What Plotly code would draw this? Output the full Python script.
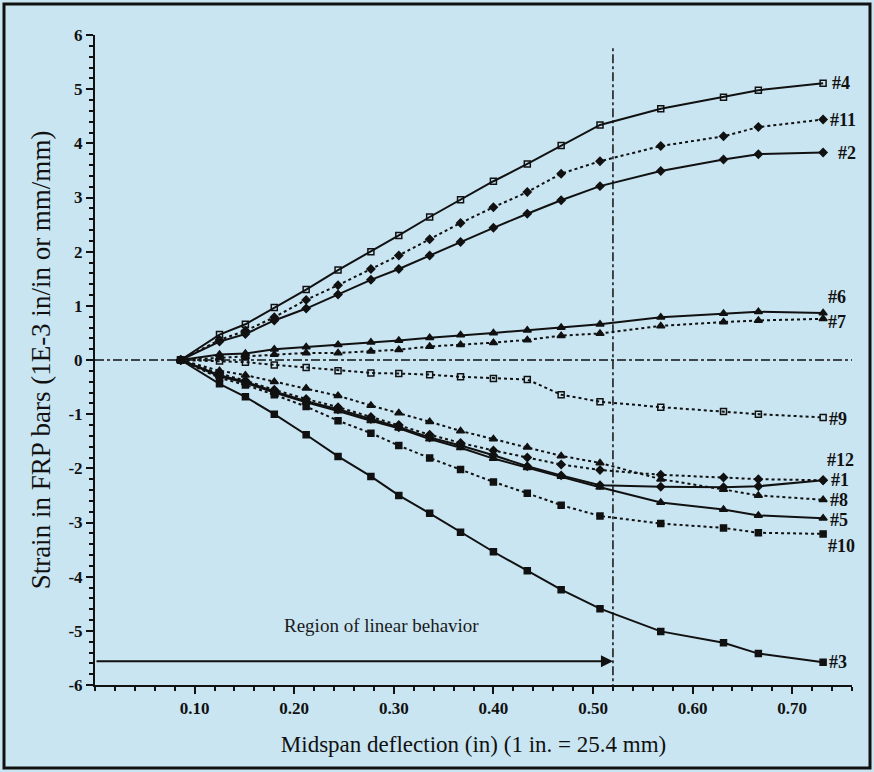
import plotly.graph_objects as go

# ---- data ----
deflection = [0.086, 0.125, 0.151, 0.180, 0.212, 0.244, 0.277, 0.305, 0.336,
              0.367, 0.400, 0.434, 0.468, 0.507, 0.568, 0.631, 0.666, 0.731]

bar4 = [0, 0.47, 0.66, 0.97, 1.30, 1.66, 2.00, 2.30, 2.64, 2.96, 3.30, 3.62, 3.96, 4.34, 4.64, 4.85, 4.98, 5.11]
bar11 = [0, 0.37, 0.54, 0.79, 1.11, 1.38, 1.68, 1.93, 2.23, 2.53, 2.82, 3.10, 3.44, 3.67, 3.95, 4.13, 4.30, 4.44]
bar2 = [0, 0.34, 0.48, 0.73, 0.95, 1.21, 1.48, 1.68, 1.93, 2.18, 2.44, 2.70, 2.95, 3.21, 3.49, 3.70, 3.80, 3.83]
bar6 = [0, 0.10, 0.12, 0.20, 0.24, 0.28, 0.33, 0.36, 0.41, 0.46, 0.50, 0.55, 0.60, 0.66, 0.79, 0.86, 0.89, 0.87]
bar7 = [0, 0.04, 0.06, 0.10, 0.13, 0.13, 0.16, 0.19, 0.25, 0.28, 0.32, 0.37, 0.45, 0.49, 0.63, 0.70, 0.73, 0.76]
bar9 = [0, -0.02, -0.04, -0.09, -0.14, -0.20, -0.24, -0.25, -0.27, -0.31, -0.34, -0.36, -0.64, -0.77, -0.87, -0.95, -1.00, -1.06]
bar12 = [0, -0.25, -0.38, -0.55, -0.72, -0.87, -1.05, -1.20, -1.38, -1.53, -1.67, -1.80, -1.93, -2.03, -2.12, -2.17, -2.20, -2.22]
bar1 = [0, -0.28, -0.40, -0.58, -0.76, -0.91, -1.09, -1.24, -1.43, -1.58, -1.76, -1.96, -2.13, -2.31, -2.34, -2.35, -2.33, -2.22]
bar8 = [0, -0.20, -0.28, -0.40, -0.52, -0.66, -0.84, -0.98, -1.14, -1.31, -1.46, -1.61, -1.77, -1.90, -2.20, -2.39, -2.50, -2.58]
bar5 = [0, -0.30, -0.42, -0.60, -0.78, -0.94, -1.12, -1.26, -1.46, -1.62, -1.82, -1.99, -2.15, -2.35, -2.63, -2.76, -2.87, -2.92]
bar10 = [0, -0.33, -0.46, -0.64, -0.86, -1.12, -1.35, -1.58, -1.81, -2.02, -2.25, -2.46, -2.68, -2.88, -3.02, -3.10, -3.19, -3.21]
bar3 = [0, -0.44, -0.68, -1.00, -1.38, -1.78, -2.15, -2.50, -2.83, -3.18, -3.54, -3.89, -4.24, -4.59, -5.01, -5.22, -5.42, -5.58]

x_tick_vals = [0.10, 0.20, 0.30, 0.40, 0.50, 0.60, 0.70]
x_tick_text = ["0.10", "0.20", "0.30", "0.40", "0.50", "0.60", "0.70"]
y_tick_vals = [-6, -5, -4, -3, -2, -1, 0, 1, 2, 3, 4, 5, 6]
y_tick_text = ["-6", "-5", "-4", "-3", "-2", "-1", "0", "1", "2", "3", "4", "5", "6"]

linear_limit = 0.52
arrow_level = -5.56

series = [
    ("#4", bar4, "square-open", "solid"),
    ("#11", bar11, "diamond", "dot"),
    ("#2", bar2, "diamond", "solid"),
    ("#6", bar6, "triangle-up", "solid"),
    ("#7", bar7, "triangle-up", "dot"),
    ("#9", bar9, "square-open", "dot"),
    ("#12", bar12, "diamond", "dot"),
    ("#1", bar1, "diamond", "solid"),
    ("#8", bar8, "triangle-up", "dot"),
    ("#5", bar5, "triangle-up", "solid"),
    ("#10", bar10, "square", "dot"),
    ("#3", bar3, "square", "solid"),
]

# label vertical offsets (data units) relative to last point
label_offset = {"#4": 0, "#11": 0, "#2": 0, "#6": 0.30, "#7": -0.06, "#9": -0.02,
                "#12": 0.38, "#1": 0.0, "#8": 0.0, "#5": -0.04, "#10": -0.22, "#3": 0.0}
label_dx = {"#4": 0.007, "#11": 0.005, "#2": 0.013, "#6": 0.003, "#7": 0.003, "#9": 0.004,
            "#12": 0.002, "#1": 0.006, "#8": 0.005, "#5": 0.005, "#10": 0.003, "#3": 0.004}

BG = "#c9e5f2"
FONT = "Times New Roman, Liberation Serif, serif"

fig = go.Figure()

for name, vals, sym, dash in series:
    fig.add_trace(go.Scatter(
        x=deflection, y=vals, mode="lines+markers", name=name,
        line=dict(color="#111111", width=2, dash=dash),
        marker=dict(symbol=sym, size=7 if "triangle" in sym else 6, color="#111111",
                    line=dict(color="#111111", width=1.5)),
        showlegend=False, cliponaxis=False,
    ))
    fig.add_annotation(
        x=deflection[-1] + label_dx[name],
        y=vals[-1] + label_offset[name], text=name, showarrow=False,
        xanchor="left", yanchor="middle",
        font=dict(family=FONT, size=18, color="#111111", weight="bold"),
    )

# zero reference line (dash-dot)
fig.add_shape(type="line", xref="x", yref="y", x0=0, x1=0.76, y0=0, y1=0,
              line=dict(color="#111111", width=1.5, dash="dashdot"))
# vertical limit of linear region
fig.add_shape(type="line", xref="x", yref="y", x0=linear_limit, x1=linear_limit,
              y0=-6.15, y1=5.76, line=dict(color="#111111", width=1.5, dash="dashdot"))

# arrow for region of linear behavior
fig.add_annotation(x=linear_limit, y=arrow_level, ax=0.0, ay=arrow_level,
                   xref="x", yref="y", axref="x", ayref="y",
                   showarrow=True, arrowhead=2, arrowsize=1.2, arrowwidth=2,
                   arrowcolor="#111111", text="")
fig.add_annotation(x=0.288, y=-4.91, xref="x", yref="y", text="Region of linear behavior",
                   showarrow=False, font=dict(family=FONT, size=19, color="#1a1a1a"))

# outer frame
fig.add_shape(type="rect", xref="paper", yref="paper",
              x0=(4 - 95) / 757, x1=(870 - 95) / 757,
              y0=(685 - 768) / 650, y1=(685 - 4) / 650,
              line=dict(color="#111111", width=3), layer="above")

fig.update_layout(
    width=874, height=772,
    margin=dict(l=95, r=22, t=35, b=87, autoexpand=False),
    paper_bgcolor=BG, plot_bgcolor=BG,
    font=dict(family=FONT, color="#111111"),
    xaxis=dict(
        range=[0, 0.76], showgrid=False, zeroline=False, automargin=False,
        showline=True, linecolor="#111111", linewidth=2,
        tickmode="array", tickvals=x_tick_vals, ticktext=x_tick_text,
        ticks="outside", ticklen=7, tickwidth=2, tickcolor="#111111",
        minor=dict(dtick=0.02, tick0=0, ticks="outside", ticklen=4, tickwidth=1.5,
                   tickcolor="#111111", showgrid=False),
        tickfont=dict(family=FONT, size=17, weight="bold"),
        title=dict(text="Midspan deflection (in) (1 in. = 25.4 mm)",
                   font=dict(family=FONT, size=23), standoff=18),
        mirror=False,
    ),
    yaxis=dict(
        range=[-6, 6], showgrid=False, zeroline=False, automargin=False,
        showline=True, linecolor="#111111", linewidth=2,
        tickmode="array", tickvals=y_tick_vals, ticktext=y_tick_text,
        ticks="outside", ticklen=7, tickwidth=2, tickcolor="#111111",
        minor=dict(dtick=0.2, tick0=0, ticks="outside", ticklen=4, tickwidth=1.5,
                   tickcolor="#111111", showgrid=False),
        tickfont=dict(family=FONT, size=17, weight="bold"),
        title=dict(text="Strain in FRP bars (1E-3 in/in or mm/mm)",
                   font=dict(family=FONT, size=27), standoff=10),
    ),
)

fig.write_html(
    "out.html",
    config={"displayModeBar": False},
    post_script="document.body.style.margin='0';document.body.style.padding='0';"
                "document.body.style.background='" + BG + "';",
)
